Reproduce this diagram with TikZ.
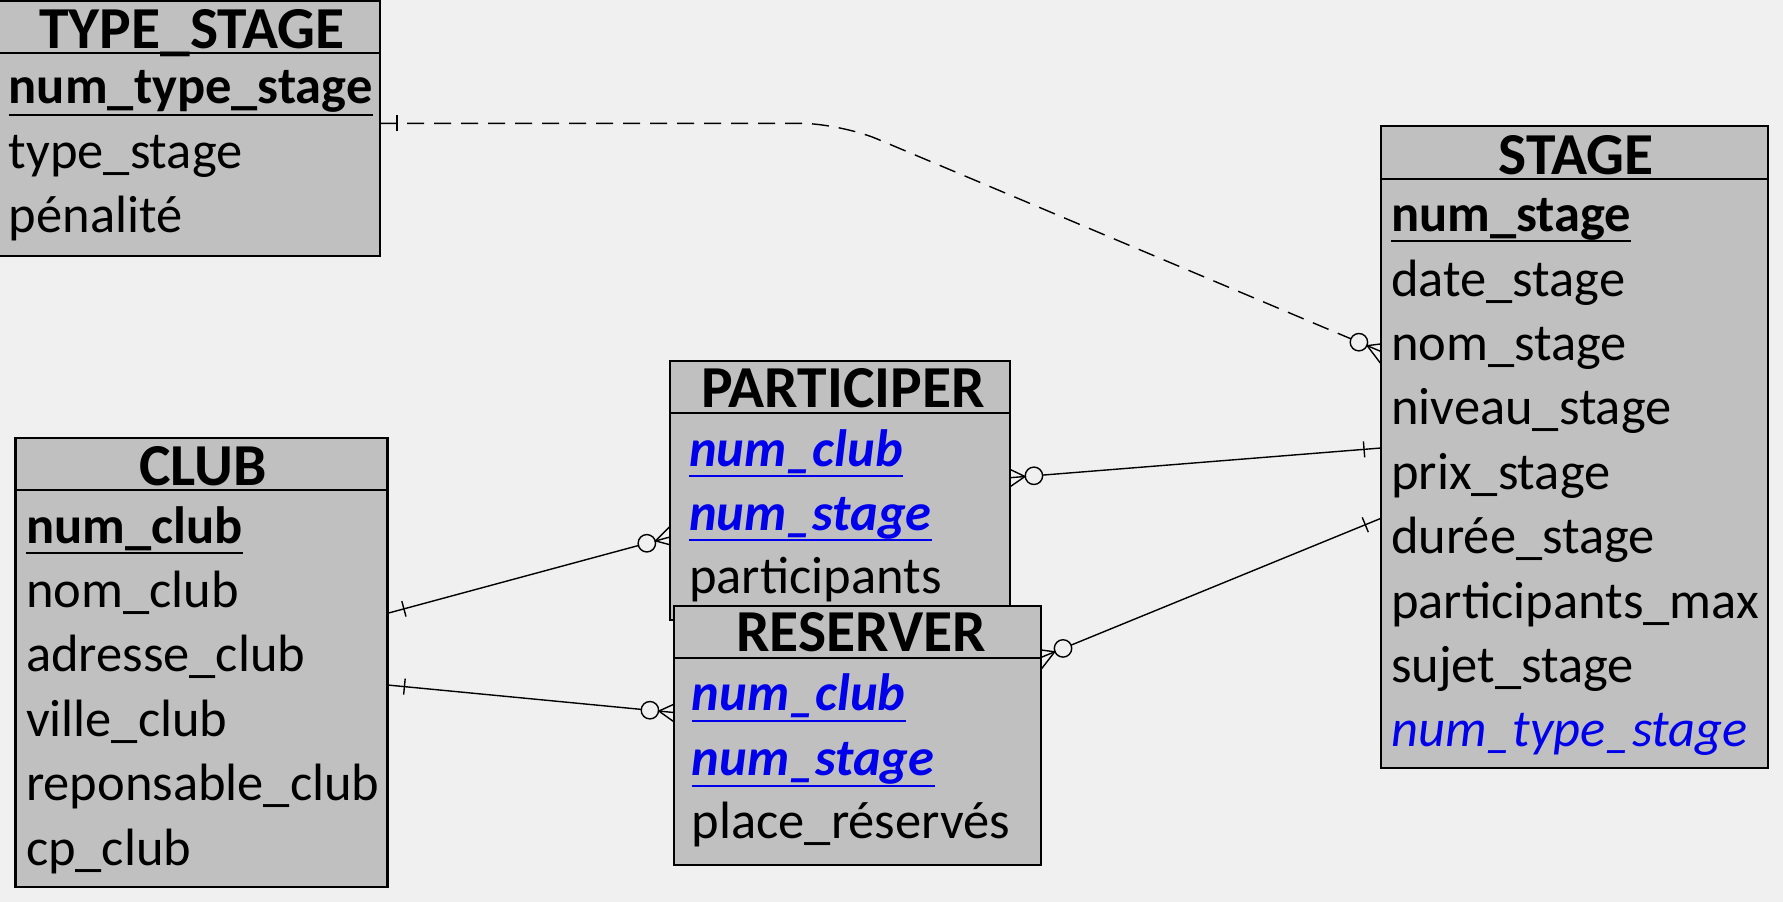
\documentclass[tikz,border=0pt]{standalone}
\usepackage{fontspec}
\setmainfont{Carlito}
\usetikzlibrary{calc}
\definecolor{bgc}{HTML}{F0F0F0}
\definecolor{boxc}{HTML}{C0C0C0}
\definecolor{fkc}{RGB}{0,0,235}
\pgfdeclarelayer{back}
\pgfdeclarelayer{lines}
\pgfsetlayers{back,lines,main}
\newcommand\erfoot[2]{%
  \coordinate (fJ) at ($(#1)!15pt!(#2)$);
  \draw[conn] ($(#1)!24pt!(#2)$) circle[radius=8.7pt];
  \draw[conn] ($(fJ)!2!30:(#1)$) -- (fJ) -- ($(fJ)!2!-30:(#1)$);
  \draw[conn] (fJ) -- ($(fJ)!2!(#1)$);
}
\newcommand\ertick[2]{%
  \coordinate (tT) at ($(#1)!17pt!(#2)$);
  \draw[conn] ($(tT)!8pt!90:(#1)$) -- ($(tT)!8pt!-90:(#1)$);
}
\begin{document}
\begin{tikzpicture}[x=1pt,y=-1pt,
  box/.style={draw=black, line width=2.2pt, fill=boxc, anchor=north west, inner sep=0pt, outer sep=0pt},
  ttl/.style={font=\fontsize{59.5}{62}\selectfont\bfseries, anchor=base, inner sep=0pt},
  attr/.style={font=\fontsize{52.5}{60}\selectfont, anchor=base west, inner sep=0pt},
  pk/.style={attr, font=\fontsize{52.5}{60}\selectfont\bfseries},
  fk/.style={attr, font=\fontsize{52.5}{60}\selectfont\bfseries\itshape, text=fkc},
  fkn/.style={attr, font=\fontsize{52.5}{60}\selectfont\itshape, text=fkc},
  uline/.style={line width=2pt, draw=black},
  fkline/.style={line width=2pt, draw=fkc},
  hdr/.style={line width=2.2pt},
  conn/.style={line width=1.4pt, draw=black},
  idef/.style={dash pattern=on 17pt off 10pt}]
\begin{pgfonlayer}{back}
\fill[bgc] (0,0) rectangle (1783,902);
\end{pgfonlayer}
\useasboundingbox (0,0) rectangle (1783,902);

% TYPE_STAGE
\node[box, minimum width=383pt, minimum height=255.5pt] (tstage) at (-3,0.5) {};
\draw[hdr] ([yshift=-52.2pt]tstage.north west) -- ([yshift=-52.2pt]tstage.north east);
\node[ttl] (tstage-t) at (192,48) {TYPE\_STAGE};
\node[pk] (tstage-1) at (8.6,103) {num\_type\_stage};
\draw[uline] ([yshift=-12pt]tstage-1.base west) -- ([yshift=-12pt]tstage-1.base east);
\node[attr] (tstage-2) at (8.6,168) {type\_stage};
\node[attr] (tstage-3) at (8.6,232) {pénalité};

% CLUB
\node[box, minimum width=372pt, minimum height=448.9pt] (club) at (15.5,437.8) {};
\draw[hdr] ([yshift=-52.2pt]club.north west) -- ([yshift=-52.2pt]club.north east);
\node[ttl] (club-t) at (203,485) {CLUB};
\node[pk] (club-1) at (25.8,543) {num\_club};
\draw[uline] ([yshift=-10pt]club-1.base west) -- ([yshift=-10pt]club-1.base east);
\node[attr] (club-2) at (25.8,607.4) {nom\_club};
\node[attr] (club-3) at (25.8,671.8) {adresse\_club};
\node[attr] (club-4) at (25.8,736.2) {ville\_club};
\node[attr] (club-5) at (25.8,800.6) {reponsable\_club};
\node[attr] (club-6) at (25.8,865) {cp\_club};

% PARTICIPER
\node[box, minimum width=340pt, minimum height=259pt] (part) at (670,360.7) {};
\draw[hdr] ([yshift=-52pt]part.north west) -- ([yshift=-52pt]part.north east);
\node[ttl] (part-t) at (843,407.3) {PARTICIPER};
\node[fk] (part-1) at (689,466) {num\_club};
\draw[fkline] ([yshift=-10pt]part-1.base west) -- ([yshift=-10pt]part-1.base east);
\node[fk] (part-2) at (689,530) {num\_stage};
\draw[fkline] ([yshift=-10pt]part-2.base west) -- ([yshift=-10pt]part-2.base east);
\node[attr] (part-3) at (689,593) {participants};

% RESERVER
\node[box, minimum width=367pt, minimum height=259pt] (res) at (673.8,606) {};
\draw[hdr] ([yshift=-52pt]res.north west) -- ([yshift=-52pt]res.north east);
\node[ttl] (res-t) at (861,651.7) {RESERVER};
\node[fk] (res-1) at (691.7,710) {num\_club};
\draw[fkline] ([yshift=-11pt]res-1.base west) -- ([yshift=-11pt]res-1.base east);
\node[fk] (res-2) at (691.7,775) {num\_stage};
\draw[fkline] ([yshift=-11pt]res-2.base west) -- ([yshift=-11pt]res-2.base east);
\node[attr] (res-3) at (691.7,838.3) {place\_réservés};

% STAGE
\node[box, minimum width=387pt, minimum height=641.7pt] (stage) at (1381,126) {};
\draw[hdr] ([yshift=-53pt]stage.north west) -- ([yshift=-53pt]stage.north east);
\node[ttl] (stage-t) at (1576,174) {STAGE};
\node[pk] (stage-1) at (1391,231.7) {num\_stage};
\draw[uline] ([yshift=-9pt]stage-1.base west) -- ([yshift=-9pt]stage-1.base east);
\node[attr] (stage-2) at (1391,296.1) {date\_stage};
\node[attr] (stage-3) at (1391,360.5) {nom\_stage};
\node[attr] (stage-4) at (1391,424.9) {niveau\_stage};
\node[attr] (stage-5) at (1391,489.3) {prix\_stage};
\node[attr] (stage-6) at (1391,553.7) {durée\_stage};
\node[attr] (stage-7) at (1391,618.1) {participants\_max};
\node[attr] (stage-8) at (1391,682.5) {sujet\_stage};
\node[fkn] (stage-9) at (1391,746.9) {num\_type\_stage};

% connector end points
\coordinate (c1s) at ([yshift=-122.8pt]tstage.north east);
\coordinate (c1k) at (840,123.3);
\coordinate (c1e) at ([yshift=-225.5pt]stage.north west);
\coordinate (c2s) at ([yshift=-175.5pt]club.north east);
\coordinate (c2e) at ([yshift=-176.3pt]part.north west);
\coordinate (c3s) at ([yshift=-247.2pt]club.north east);
\coordinate (c3e) at ([yshift=-106.5pt]res.north west);
\coordinate (c4s) at ([yshift=-322pt]stage.north west);
\coordinate (c4e) at ([yshift=-117pt]part.north east);
\coordinate (c5s) at ([yshift=-392.3pt]stage.north west);
\coordinate (c5e) at ([yshift=-51.5pt]res.north east);

\begin{pgfonlayer}{lines}
\draw[conn, idef, rounded corners=40pt] (c1s) -- (c1k) -- ($(c1e)!33pt!(c1k)$);
\ertick{c1s}{c1k}
\erfoot{c1e}{c1k}
\draw[conn] (c2s) -- ($(c2e)!33pt!(c2s)$);
\ertick{c2s}{c2e}
\erfoot{c2e}{c2s}
\draw[conn] (c3s) -- ($(c3e)!33pt!(c3s)$);
\ertick{c3s}{c3e}
\erfoot{c3e}{c3s}
\draw[conn] (c4s) -- ($(c4e)!33pt!(c4s)$);
\ertick{c4s}{c4e}
\erfoot{c4e}{c4s}
\draw[conn] (c5s) -- ($(c5e)!33pt!(c5s)$);
\ertick{c5s}{c5e}
\erfoot{c5e}{c5s}
\end{pgfonlayer}
\end{tikzpicture}
\end{document}
